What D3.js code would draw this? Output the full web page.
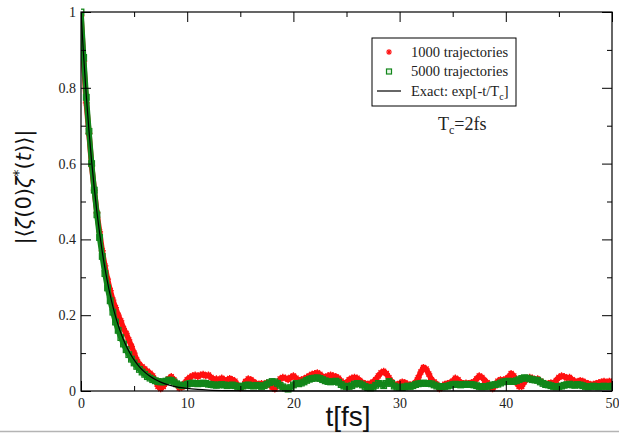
<!DOCTYPE html>
<html>
<head>
<meta charset="utf-8">
<script src="https://cdn.jsdelivr.net/npm/d3@7"></script>
<style>
  html, body { margin: 0; padding: 0; background: #fff; }
  svg { display: block; }
</style>
</head>
<body>
<svg id="chart" width="619" height="433"></svg>
<script>
// ---------------- DATA ----------------
const timeStep = 0.25; // fs between samples, samples start at t = 0

// 1000 trajectories (red stars)
const traj1000 = [
  0.99,0.87,0.76,0.68,0.595,0.53,0.47,0.42,0.37,0.33,0.295,0.265,0.24,0.22,0.2,0.185,0.165,0.152,0.135,0.118,
  0.1,0.082,0.07,0.064,0.058,0.052,0.047,0.04,0.028,0.012,0.006,0.012,0.022,0.032,0.038,0.03,0.018,0.008,0.01,0.02,
  0.03,0.036,0.04,0.042,0.038,0.042,0.044,0.04,0.042,0.036,0.03,0.032,0.028,0.034,0.03,0.028,0.033,0.03,0.026,0.015,
  0.008,0.012,0.025,0.032,0.03,0.024,0.02,0.018,0.02,0.017,0.022,0.016,0.01,0.005,0.02,0.032,0.036,0.034,0.03,0.036,
  0.04,0.034,0.028,0.03,0.032,0.036,0.04,0.044,0.046,0.048,0.044,0.038,0.036,0.04,0.042,0.04,0.038,0.034,0.026,0.02,
  0.022,0.03,0.034,0.036,0.034,0.028,0.022,0.02,0.018,0.02,0.024,0.03,0.04,0.048,0.052,0.046,0.035,0.024,0.018,0.016,
  0.02,0.024,0.022,0.018,0.016,0.018,0.022,0.035,0.05,0.062,0.058,0.045,0.03,0.024,0.018,0.006,0.01,0.018,0.02,0.022,
  0.026,0.034,0.03,0.022,0.02,0.021,0.02,0.022,0.024,0.032,0.04,0.036,0.028,0.022,0.012,0.006,0.014,0.026,0.03,0.028,
  0.032,0.036,0.046,0.04,0.022,0.012,0.012,0.024,0.032,0.036,0.034,0.03,0.032,0.026,0.022,0.018,0.02,0.022,0.02,0.028,
  0.036,0.04,0.038,0.034,0.036,0.03,0.026,0.024,0.028,0.026,0.022,0.02,0.016,0.018,0.02,0.022,0.024,0.026,0.022,0.026,
  0.024
];

// 5000 trajectories (green squares)
const traj5000 = [
  1.00,0.88,0.775,0.685,0.60,0.53,0.465,0.405,0.355,0.31,0.272,0.238,0.208,0.182,0.16,0.141,0.124,0.109,0.096,0.084,
  0.074,0.065,0.057,0.050,0.044,0.038,0.034,0.030,0.027,0.025,0.024,0.024,0.026,0.029,0.028,0.024,0.019,0.016,0.014,0.015,
  0.018,0.02,0.021,0.02,0.019,0.02,0.021,0.02,0.018,0.017,0.016,0.015,0.016,0.017,0.016,0.014,0.015,0.016,0.014,0.012,
  0.011,0.013,0.015,0.016,0.014,0.013,0.015,0.014,0.012,0.014,0.018,0.022,0.025,0.024,0.02,0.015,0.011,0.008,0.005,0.009,
  0.016,0.02,0.019,0.021,0.024,0.028,0.031,0.033,0.034,0.035,0.033,0.03,0.027,0.025,0.024,0.025,0.026,0.023,0.017,0.013,
  0.012,0.012,0.014,0.018,0.02,0.019,0.016,0.012,0.009,0.008,0.01,0.015,0.02,0.019,0.014,0.02,0.025,0.02,0.013,0.01,
  0.01,0.009,0.011,0.013,0.012,0.014,0.017,0.019,0.02,0.021,0.02,0.02,0.019,0.016,0.013,0.012,0.011,0.012,0.013,0.015,
  0.017,0.018,0.017,0.016,0.017,0.018,0.017,0.017,0.016,0.014,0.012,0.011,0.012,0.012,0.014,0.016,0.017,0.018,0.021,0.024,
  0.025,0.026,0.025,0.025,0.027,0.03,0.033,0.035,0.034,0.032,0.03,0.029,0.028,0.024,0.02,0.017,0.016,0.014,0.012,0.011,
  0.012,0.013,0.015,0.017,0.018,0.016,0.015,0.017,0.016,0.014,0.012,0.011,0.012,0.013,0.012,0.011,0.012,0.013,0.012,0.012,
  0.013
];

// Exact curve exp[-t/Tc], Tc = 2 fs
const exactT = [0,0.25,0.5,0.75,1,1.25,1.5,1.75,2,2.25,2.5,2.75,3,3.25,3.5,3.75,4,4.25,4.5,4.75,5,5.5,6,6.5,7,7.5,8,8.5,9,9.5,10,11,12,14,16,20,30,40,50];
const exactV = [1,0.8825,0.7788,0.6873,0.6065,0.5353,0.4724,0.4169,0.3679,0.3247,0.2865,0.2528,0.2231,0.1969,0.1738,0.1534,0.1353,0.1194,0.1054,0.0930,0.0821,0.0639,0.0498,0.0388,0.0302,0.0235,0.0183,0.0143,0.0111,0.0087,0.0067,0.0041,0.0025,0.0009,0.0003,0.00005,0,0,0];

const xMajorTicks = [0,10,20,30,40,50];
const xMinorTicks = [5,15,25,35,45];
const yMajorTicks = [0,0.2,0.4,0.6,0.8,1];
const yMajorLabels = ["0","0.2","0.4","0.6","0.8","1"];
const yMinorTicks = [0.1,0.3,0.5,0.7,0.9];

const legendLabels = ["1000 trajectories","5000 trajectories","Exact: exp[-t/T"];

// ---------------- DRAW ----------------
const svg = d3.select("#chart");
const W = 619, H = 433;
const plot = {left: 81, right: 612, top: 12, bottom: 391};

const RED = "#ff1010", GREEN = "#12861a";

const x = d3.scaleLinear().domain([0,50]).range([plot.left, plot.right]);
const y = d3.scaleLinear().domain([0,1]).range([plot.bottom, plot.top]);

svg.append("rect").attr("width", W).attr("height", H).attr("fill", "#fff");

// bottom grey edge line of screenshot
svg.append("line").attr("x1",0).attr("x2",W).attr("y1",431.5).attr("y2",431.5)
  .attr("stroke","#b4b4b4").attr("stroke-width",1.5);

const red = traj1000.map((v,i)=>({t:i*timeStep, v}));
const green = traj5000.map((v,i)=>({t:i*timeStep, v}));
const exact = exactT.map((t,i)=>({t, v: exactV[i]}));

const line = d3.line().x(d=>x(d.t)).y(d=>y(d.v));
svg.append("clipPath").attr("id","clip").append("rect")
  .attr("x", plot.left).attr("y", plot.top - 4).attr("width", plot.right-plot.left).attr("height", plot.bottom-plot.top+8);

const g = svg.append("g").attr("clip-path","url(#clip)");

// red band + stars
g.append("path").datum(red).attr("d", line).attr("fill","none")
  .attr("stroke", RED).attr("stroke-width", 5.5).attr("stroke-linejoin","round");
const starPath = "M-3.5,0H3.5M0,-3.5V3.5M-2.5,-2.5L2.5,2.5M-2.5,2.5L2.5,-2.5";
g.selectAll(".star").data(red).enter().append("path")
  .attr("transform", d=>`translate(${x(d.t)},${y(d.v)})`)
  .attr("d", starPath).attr("stroke", RED).attr("stroke-width", 1.3).attr("fill","none");

// green band + squares
g.append("path").datum(green).attr("d", line).attr("fill","none")
  .attr("stroke", GREEN).attr("stroke-width", 5.5).attr("stroke-linejoin","round");
g.selectAll(".sq").data(green).enter().append("rect")
  .attr("x", d=>x(d.t)-2.8).attr("y", d=>y(d.v)-2.8).attr("width",5.6).attr("height",5.6)
  .attr("fill","none").attr("stroke", GREEN).attr("stroke-width",1.3);

// exact black line
g.append("path").datum(exact).attr("d", line.curve(d3.curveMonotoneX)).attr("fill","none")
  .attr("stroke","#000").attr("stroke-width",1.2);

// axes (ticks inward on all sides)
const font = "'Liberation Serif','Times New Roman',serif";
function styleAxis(sel){
  sel.select(".domain").remove();
  sel.selectAll("line").attr("stroke","#000").attr("stroke-width",1);
  sel.selectAll("text").attr("font-family", font).attr("font-size", 14).attr("fill","#222");
}
svg.append("g").attr("transform",`translate(0,${plot.bottom})`)
  .call(d3.axisBottom(x).tickValues(xMajorTicks).tickSize(-10).tickPadding(7).tickFormat(d3.format("d"))).call(styleAxis);
svg.append("g").attr("transform",`translate(0,${plot.bottom})`)
  .call(d3.axisBottom(x).tickValues(xMinorTicks).tickSize(-5).tickFormat("")).call(styleAxis);
svg.append("g").attr("transform",`translate(0,${plot.top})`)
  .call(d3.axisTop(x).tickValues(xMajorTicks).tickSize(-10).tickFormat("")).call(styleAxis);
svg.append("g").attr("transform",`translate(0,${plot.top})`)
  .call(d3.axisTop(x).tickValues(xMinorTicks).tickSize(-5).tickFormat("")).call(styleAxis);
svg.append("g").attr("transform",`translate(${plot.left},0)`)
  .call(d3.axisLeft(y).tickValues(yMajorTicks).tickSize(-10).tickPadding(5).tickFormat((d,i)=>yMajorLabels[i])).call(styleAxis);
svg.append("g").attr("transform",`translate(${plot.left},0)`)
  .call(d3.axisLeft(y).tickValues(yMinorTicks).tickSize(-5).tickFormat("")).call(styleAxis);
svg.append("g").attr("transform",`translate(${plot.right},0)`)
  .call(d3.axisRight(y).tickValues(yMajorTicks).tickSize(-10).tickFormat("")).call(styleAxis);
svg.append("g").attr("transform",`translate(${plot.right},0)`)
  .call(d3.axisRight(y).tickValues(yMinorTicks).tickSize(-5).tickFormat("")).call(styleAxis);

// frame
svg.append("rect").attr("x", plot.left).attr("y", plot.top)
  .attr("width", plot.right-plot.left).attr("height", plot.bottom-plot.top)
  .attr("fill","none").attr("stroke","#000").attr("stroke-width",1.2);

// axis titles
svg.append("text").attr("x", 348).attr("y", 426).attr("text-anchor","middle")
  .attr("font-family","'Liberation Sans',Arial,sans-serif").attr("font-size",28).attr("fill","#111")
  .text("t[fs]");

const yt = svg.append("text").attr("transform","translate(31,187) rotate(-90)")
  .attr("text-anchor","middle").attr("font-family","'DejaVu Sans',sans-serif")
  .attr("font-size",21).attr("fill","#111");
yt.append("tspan").text("|⟨");
yt.append("tspan").attr("font-style","italic").text("ζ");
yt.append("tspan").text("(0)");
yt.append("tspan").attr("font-style","italic").text("ζ");
yt.append("tspan").attr("font-size",14).attr("dy",-8).text("*");
yt.append("tspan").attr("dy",8).text("(");
yt.append("tspan").attr("font-style","italic").text("t");
yt.append("tspan").text(")⟩|");

// legend
const lg = svg.append("g");
lg.append("rect").attr("x",372).attr("y",38).attr("width",144).attr("height",68)
  .attr("fill","#fff").attr("stroke","#000").attr("stroke-width",1);
const rowsY = [52, 71.5, 91];
lg.append("path").attr("transform",`translate(389,${rowsY[0]})`).attr("d","M-3,0H3M0,-3V3M-2.1,-2.1L2.1,2.1M-2.1,2.1L2.1,-2.1")
  .attr("stroke",RED).attr("stroke-width",1.1);
lg.append("rect").attr("x",386.5).attr("y",rowsY[1]-2.5).attr("width",5).attr("height",5)
  .attr("fill","#e8f5e8").attr("stroke",GREEN).attr("stroke-width",1.2);
lg.append("line").attr("x1",377).attr("x2",401).attr("y1",rowsY[2]).attr("y2",rowsY[2])
  .attr("stroke","#000").attr("stroke-width",1.2);
legendLabels.forEach((lab,i)=>{
  const t = lg.append("text").attr("x",411).attr("y",rowsY[i]+4.5)
    .attr("font-family",font).attr("font-size",14.5).attr("fill","#222");
  t.append("tspan").text(lab);
  if(i===2){
    t.append("tspan").attr("font-size",10).attr("dy",4).text("c");
    t.append("tspan").attr("dy",-4).text("]");
  }
});

// annotation
const ann = svg.append("text").attr("x",438).attr("y",130)
  .attr("font-family",font).attr("font-size",18).attr("fill","#222");
ann.append("tspan").text("T");
ann.append("tspan").attr("font-size",12).attr("dy",4).text("c");
ann.append("tspan").attr("dy",-4).text("=2fs");
</script>
</body>
</html>
